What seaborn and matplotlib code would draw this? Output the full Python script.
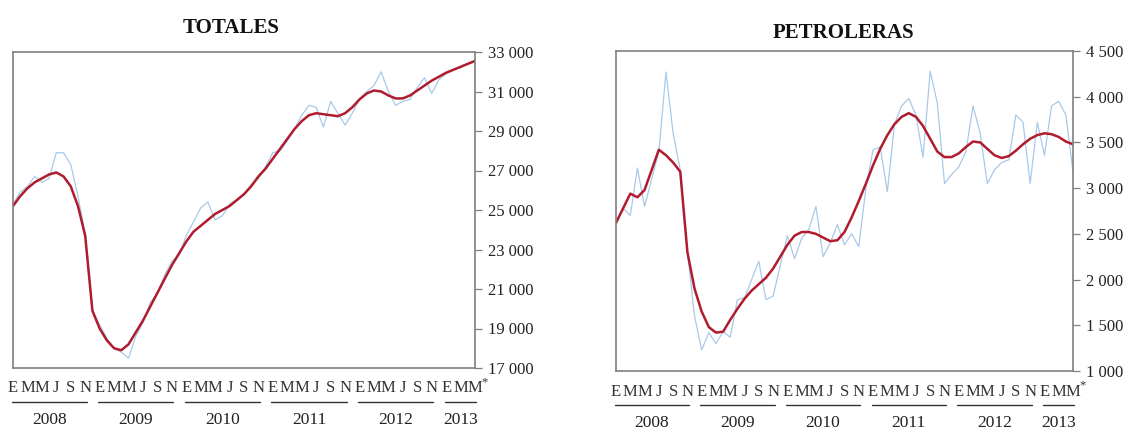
import numpy as np
import pandas as pd
import matplotlib
matplotlib.use("Agg")
import matplotlib.pyplot as plt
import matplotlib.ticker as mticker
import seaborn as sns

sns.set_style("white")
plt.rcParams['font.family'] = ['Liberation Serif', 'DejaVu Serif']

# Months Jan 2008 .. May 2013 (index 0..64)
months = list(range(65))
month_letters = ["E", "M", "M", "J", "S", "N"]
years = ["2008", "2009", "2010", "2011", "2012", "2013"]

# TOTALES: original series (light blue) and trend (red)
totales_serie = [
    25300, 25900, 26200, 26700, 26400, 26600, 27900, 27900, 27300, 25700,
    23800, 19900, 19200, 18500, 18000, 17800, 17500, 18600, 19300, 20300,
    20800, 21700, 22400, 22700, 23700, 24400, 25100, 25400, 24500, 24700,
    25300, 25500, 25800, 26300, 26600, 27200, 27900, 28000, 28500, 29100,
    29800, 30300, 30200, 29200, 30500, 29900, 29300, 29900, 30600, 31000,
    31300, 32000, 31000, 30300, 30500, 30600, 31200, 31700, 30900, 31600,
    31900, 32100, 32200, 32400, 32500,
]
totales_tendencia = [
    25200, 25700, 26100, 26400, 26600, 26800, 26900, 26700, 26200, 25200,
    23700, 19900, 19000, 18400, 18000, 17900, 18200, 18800, 19400, 20100,
    20800, 21500, 22200, 22800, 23400, 23900, 24200, 24500, 24800, 25000,
    25200, 25500, 25800, 26200, 26700, 27100, 27600, 28100, 28600, 29100,
    29500, 29800, 29900, 29850, 29800, 29750, 29900, 30200, 30600, 30900,
    31050, 31000, 30800, 30650, 30650, 30800, 31050, 31300, 31550, 31750,
    31950, 32100, 32250, 32400, 32550,
]

# PETROLERAS
petroleras_serie = [
    2620, 2780, 2700, 3220, 2800, 3100, 3400, 4270, 3600, 3200,
    2300, 1600, 1230, 1420, 1300, 1430, 1370, 1780, 1800, 2000,
    2200, 1780, 1820, 2150, 2480, 2230, 2450, 2550, 2800, 2250,
    2400, 2600, 2380, 2500, 2360, 3000, 3420, 3450, 2960, 3700,
    3900, 3980, 3800, 3340, 4280, 3930, 3050, 3150, 3230, 3400,
    3900, 3600, 3050, 3200, 3280, 3310, 3800, 3720, 3050, 3720,
    3360, 3900, 3950, 3800, 3180,
]
petroleras_tendencia = [
    2620, 2780, 2940, 2900, 2980, 3200, 3420, 3360, 3280, 3180,
    2300, 1900, 1650, 1480, 1420, 1430, 1560, 1680, 1790, 1880,
    1950, 2020, 2120, 2250, 2380, 2480, 2520, 2520, 2500, 2460,
    2420, 2430, 2520, 2680, 2860, 3050, 3250, 3430, 3580, 3700,
    3780, 3820, 3780, 3680, 3540, 3400, 3340, 3340, 3380, 3450,
    3510, 3500, 3430, 3360, 3330, 3350, 3410, 3480, 3540, 3580,
    3600, 3590, 3560, 3510, 3480,
]

BLUE = "#a9c9e8"
RED = "#b01c2e"
GREY = "#7f7f7f"


def miles(v, pos):
    return f"{int(v):,}".replace(",", " ")


def draw_panel(ax, serie, tendencia, ylim, yticks, ax_h_px):
    df = pd.DataFrame({"mes": months, "serie": serie, "tendencia": tendencia})
    sns.lineplot(data=df, x="mes", y="serie", ax=ax, color=BLUE, lw=0.9)
    sns.lineplot(data=df, x="mes", y="tendencia", ax=ax, color=RED, lw=1.8)
    ax.set_xlim(0, 64)
    ax.set_ylim(*ylim)
    ax.set_yticks(yticks)
    ax.yaxis.set_major_formatter(mticker.FuncFormatter(miles))
    ax.yaxis.tick_right()
    ax.tick_params(axis="y", which="both", right=True, left=False, length=5,
                   width=0.9, color=GREY, labelsize=12, pad=4, labelcolor="#222222")
    ax.set_xlabel("")
    ax.set_ylabel("")
    for s in ax.spines.values():
        s.set_color(GREY)
        s.set_linewidth(1.2)

    # month letters as tick labels
    ticks = months[::2]
    labels = [month_letters[(m % 12) // 2] for m in ticks]
    ax.set_xticks(ticks)
    ax.set_xticklabels(labels, fontsize=12, color="#333333")
    ax.tick_params(axis="x", length=0, pad=9)
    # superscript asterisk after the last month letter
    ax.text(65.3, -14 / ax_h_px, "*", transform=ax.get_xaxis_transform(),
            fontsize=9, color="#333333", ha="center", va="center", clip_on=False)

    # year underline segments and labels
    trans = ax.get_xaxis_transform()
    y_line = -34 / ax_h_px
    y_year = -52 / ax_h_px
    for k, yr in enumerate(years):
        start = 12 * k
        if k < 5:
            x0, x1, xc = start - 0.2, start + 10.2, start + 5
        else:
            x0, x1, xc = start - 0.2, 64.2, start + 2
        ax.plot([x0, x1], [y_line, y_line], transform=trans, color="#333333",
                lw=1.0, clip_on=False)
        ax.text(xc, y_year, yr, transform=trans, ha="center", va="center",
                fontsize=12.5, color="#222222")


fig = plt.figure(figsize=(11.34, 4.30), dpi=100)
ax1 = fig.add_axes([13 / 1134, 1 - 368 / 430, 462 / 1134, 316 / 430])
ax2 = fig.add_axes([616 / 1134, 1 - 371 / 430, 457 / 1134, 320 / 430])

draw_panel(ax1, totales_serie, totales_tendencia, (17000, 33000),
           range(17000, 33001, 2000), 316)
draw_panel(ax2, petroleras_serie, petroleras_tendencia, (1000, 4500),
           range(1000, 4501, 500), 320)

fig.text(231 / 1134, 1 - 28 / 430, "TOTALES", ha="center", va="center",
         fontsize=15, fontweight="bold", color="#111111")
fig.text(843 / 1134, 1 - 33 / 430, "PETROLERAS", ha="center", va="center",
         fontsize=15, fontweight="bold", color="#111111")

fig.savefig("out.png", dpi=100)
